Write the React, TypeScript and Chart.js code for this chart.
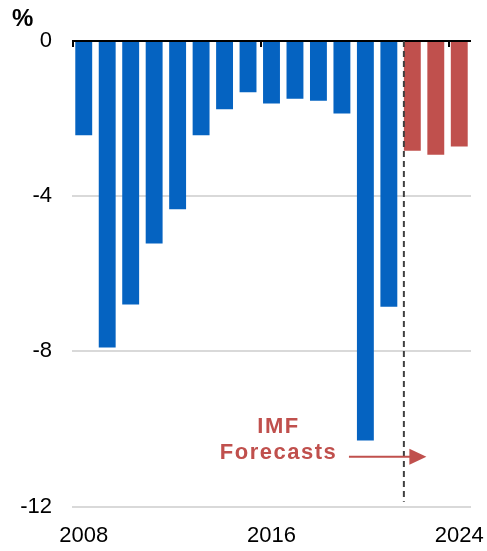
import React, { useEffect, useRef } from "react";
import { Chart, registerables } from "chart.js";

Chart.register(...registerables);

const years = ["2008","2009","2010","2011","2012","2013","2014","2015","2016","2017","2018","2019","2020","2021","2022","2023","2024"];
const balance = [-2.43,-7.9,-6.79,-5.22,-4.34,-2.43,-1.76,-1.32,-1.61,-1.49,-1.54,-1.87,-10.3,-6.85,-2.83,-2.93,-2.72];
const forecastFrom = "2022";
const shownYears = ["2008","2016","2024"];
const yTicks = [0,-4,-8,-12];
const annotationLines = ["IMF","Forecasts"];

const BLUE = "#0563C1";
const RED = "#C0504D";
const FONT = "'Liberation Sans', Arial, sans-serif";

export default function App() {
  const ref = useRef<HTMLCanvasElement | null>(null);
  useEffect(() => {
    if (!ref.current) return;
    const fIdx = years.indexOf(forecastFrom);
    const overlay = {
      id: "overlay",
      afterDatasetsDraw(chart: any) {
        const ctx = chart.ctx;
        const x = chart.scales.x;
        const y = chart.scales.y;
        const ca = chart.chartArea;
        ctx.save();
        const y0 = y.getPixelForValue(0);
        ctx.strokeStyle = "#000";
        ctx.lineWidth = 2;
        ctx.beginPath();
        ctx.moveTo(ca.left, y0);
        ctx.lineTo(ca.right, y0);
        ctx.stroke();
        shownYears.forEach((yr) => {
          const i = years.indexOf(yr);
          const px = Math.round(x.getPixelForValue(i - 0.5)) + 1;
          ctx.beginPath();
          ctx.moveTo(px, y0);
          ctx.lineTo(px, y0 + 6);
          ctx.stroke();
        });
        const dx = x.getPixelForValue(fIdx - 0.36);
        ctx.strokeStyle = "#404040";
        ctx.lineWidth = 2;
        ctx.setLineDash([6, 4]);
        ctx.beginPath();
        ctx.moveTo(dx, y0);
        ctx.lineTo(dx, y.getPixelForValue(-11.88));
        ctx.stroke();
        ctx.setLineDash([]);
        ctx.fillStyle = RED;
        ctx.font = `bold 22px ${FONT}`;
        ctx.textAlign = "center";
        ctx.textBaseline = "middle";
        try { (ctx as any).letterSpacing = "1.5px"; } catch (e) {}
        const tx = x.getPixelForValue(8.3);
        ctx.fillText(annotationLines[0], tx, y.getPixelForValue(-9.95));
        ctx.fillText(annotationLines[1], tx, y.getPixelForValue(-10.62));
        try { (ctx as any).letterSpacing = "0px"; } catch (e) {}
        const ay = y.getPixelForValue(-10.72);
        const ax0 = x.getPixelForValue(11.3);
        const ax1 = x.getPixelForValue(14.6);
        ctx.strokeStyle = RED;
        ctx.lineWidth = 2;
        ctx.beginPath();
        ctx.moveTo(ax0, ay);
        ctx.lineTo(ax1 - 14, ay);
        ctx.stroke();
        ctx.beginPath();
        ctx.moveTo(ax1, ay);
        ctx.lineTo(ax1 - 17, ay - 8);
        ctx.lineTo(ax1 - 17, ay + 8);
        ctx.closePath();
        ctx.fill();
        ctx.fillStyle = "#000";
        ctx.font = `bold 24px ${FONT}`;
        ctx.textAlign = "left";
        ctx.textBaseline = "alphabetic";
        ctx.fillText("%", 12, 26);
        ctx.restore();
      },
    };
    const chart = new Chart(ref.current, {
      type: "bar",
      data: {
        labels: years,
        datasets: [
          {
            data: balance,
            backgroundColor: years.map((_, i) => (i >= fIdx ? RED : BLUE)),
            barPercentage: 0.72,
            categoryPercentage: 1,
          },
        ],
      },
      options: {
        responsive: false,
        animation: false,
        devicePixelRatio: 1,
        layout: { padding: { top: 41, right: 16, left: 0, bottom: 0 } },
        plugins: { legend: { display: false }, tooltip: { enabled: false } },
        scales: {
          x: {
            grid: { display: false, drawTicks: false },
            border: { display: false },
            ticks: {
              autoSkip: false,
              maxRotation: 0,
              padding: 16,
              color: "#000",
              font: { family: FONT, size: 22 },
              callback: (v: any, i: number) => (shownYears.includes(years[i]) ? years[i] : ""),
            },
            afterFit: (s: any) => {
              s.height = 551 - 506.5;
              s.paddingLeft = 0;
              s.paddingRight = 0;
            },
          },
          y: {
            min: -12,
            max: 0,
            afterBuildTicks: (s: any) => { s.ticks = yTicks.map((v) => ({ value: v })); },
            grid: { color: "#D9D9D9", lineWidth: 2, drawTicks: false },
            border: { display: false },
            ticks: {
              padding: 20,
              color: "#000",
              font: { family: FONT, size: 22 },
              callback: (v: any) => String(v),
            },
            afterFit: (s: any) => {
              s.width = 72;
              s.paddingTop = 0;
              s.paddingBottom = 0;
            },
          },
        },
      },
      plugins: [overlay],
    });
    return () => chart.destroy();
  }, []);
  return (
    <div style={{ position: "fixed", left: 0, top: 0, width: 487, height: 551, background: "#fff" }}>
      <canvas ref={ref} width={487} height={551} />
    </div>
  );
}
